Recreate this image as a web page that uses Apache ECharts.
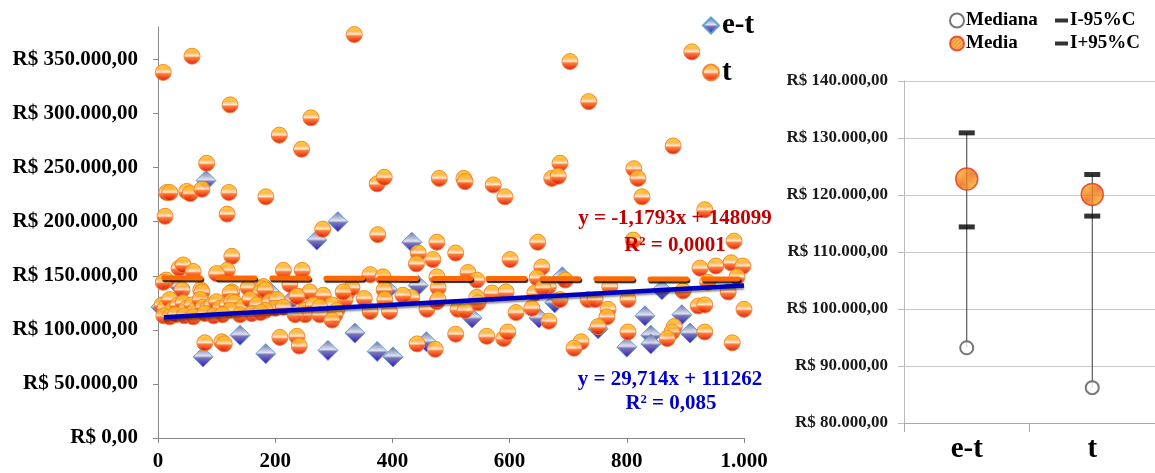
<!DOCTYPE html>
<html><head><meta charset="utf-8">
<script src="https://cdn.jsdelivr.net/npm/echarts@6/dist/echarts.min.js"></script>
<style>html,body{margin:0;padding:0;background:#fff}#c{width:1155px;height:473px}</style>
</head><body><div id="c"></div>
<script>
// ---- Data ----
// e-t series: [x, value]
const etPoints = [
 [5,121000],[37,140000],[82,238000],[77,75000],[140,95000],[184,78000],[191,135000],[225,126000],
 [271,183000],[290,81000],[307,200000],[336,97000],[374,80000],[401,75000],[392,137000],[433,181000],
 [444,141000],[458,89000],[536,111000],[650,111000],[690,149000],[677,125000],[751,101000],[800,84000],
 [831,113000],[841,95000],[841,87000],[860,137000],[894,114000],[908,97000]
];
// t series: [x, value]
const tPoints = [
 [9,338000],[58,353000],[123,308000],[335,373000],[261,296000],[207,280000],[245,267000],[83,254000],
 [15,227000],[20,227000],[49,228000],[55,226000],[75,230000],[121,227000],[184,223000],[374,235000],
 [386,241000],[480,240000],[12,205000],[118,207000],[281,193000],[375,188000],
 [703,348000],[735,311000],[911,357000],[879,270000],[686,254000],[672,240000],[683,242000],[812,249000],
 [819,240000],[826,223000],[522,240000],[524,237000],[572,234000],[592,223000],[933,211000],
 [476,181000],[508,171000],[444,171000],[469,165000],[441,161000],[601,165000],[648,181000],[811,183000],
 [983,182000],[126,168000],
 [36,157000],[43,160000],[60,154000],[118,155000],[100,152000],[214,155000],[246,155000],[14,146000],
 [9,144000],[362,151000],[384,149000],[529,153000],[925,157000],[952,159000],[978,162000],[998,159000],
 [655,158000],[544,146000],[476,149000],[647,148000],[695,146000],[988,149000],[938,144000],
 [41,137000],[73,137000],[126,135000],[154,139000],[180,140000],[225,142000],[239,131000],[259,135000],
 [282,132000],[322,134000],[331,139000],[386,137000],[433,130000],[352,129000],[319,128000],[478,139000],
 [570,134000],[594,135000],[544,130000],[643,134000],[771,140000],[666,140000],[896,136000],[973,135000],
 [657,139000],[75,135000],[177,138000],[123,134000],[174,134000],[183,137000],[316,135000],[418,132000],
 [686,128000],[734,128000],[746,128000],[802,128000],[922,122000],[933,123000],[1000,119000],[768,119000],
 [546,125000],[638,120000],[459,119000],[512,119000],[524,118000],[476,126000],[478,128000],[387,128000],
 [7,123000],[12,120000],[20,128000],[24,118000],[34,123000],[43,125000],[49,120000],[58,123000],
 [63,118000],[72,128000],[77,121000],[85,120000],[92,123000],[100,126000],[106,120000],[118,123000],
 [126,126000],[131,125000],[134,118000],[145,121000],[157,128000],[169,123000],[191,126000],[203,128000],
 [200,120000],[214,121000],[237,131000],[251,118000],[265,123000],[297,123000],[305,118000],[276,121000],
 [123,118000],[183,118000],
 [362,117000],[395,117000],[611,116000],[766,112000],[251,114000],[276,114000],[302,114000],[234,114000],
 [297,109000],[667,108000],
 [10,113000],[20,112000],[30,114000],[45,113000],[60,112000],[80,115000],[95,113000],[110,114000],
 [140,114000],[160,115000],[175,116000],
 [80,88000],[109,89000],[113,87000],[208,93000],[237,94000],[241,85000],[508,96000],[561,94000],
 [590,92000],[597,98000],[442,87000],[473,82000],[751,103000],[802,98000],[881,103000],[877,98000],
 [869,92000],[933,98000],[722,89000],[710,83000],[980,88000]
];
// Trend line equations shown on the chart: [slope, intercept], and x-range
const etTrend = [29.714, 111262];
const tTrend = [-1.1793, 148099];
const etTrendRange = [10, 1000];
const tTrendRange = [10, 990];
const xTicks = [0, 1000, 200];
const yTicksLeft = [0, 380000, 50000];

// Right panel
const categories = ['e-t', 't'];
const mediana = [93200, 86200];
const media = [122800, 120100];
const ciLow = [114400, 116300];
const ciHigh = [130900, 123600];

// ---- Helpers ----
const FONT = '"Liberation Serif", "Times New Roman", serif';
function thou(n){ return String(Math.round(n)).replace(/\B(?=(\d{3})+(?!\d))/g, '.'); }
function brl(v){ return 'R$ ' + thou(v) + ',00'; }
function trendData(c, r){ return [[r[0], c[0]*r[0]+c[1]], [r[1], c[0]*r[1]+c[1]]]; }

const circleGrad = new echarts.graphic.LinearGradient(0,0,0,1,[
  {offset:0, color:'#FFD000'},{offset:0.3, color:'#FFB040'},{offset:0.48, color:'#FFE8D0'},
  {offset:0.58, color:'#FF7020'},{offset:1, color:'#D80000'}]);
const diamondGrad = new echarts.graphic.LinearGradient(0,0,0,1,[
  {offset:0, color:'#5A6498'},{offset:0.45, color:'#DCE0F0'},{offset:0.55, color:'#7070B0'},
  {offset:1, color:'#2A00C8'}]);

// hatched orange fill for "Media"
const pc = document.createElement('canvas');
pc.width = 4; pc.height = 4;
const pctx = pc.getContext('2d');
pctx.fillStyle = '#FBA31F'; pctx.fillRect(0,0,4,4);
pctx.strokeStyle = 'rgba(226,70,10,0.75)'; pctx.lineWidth = 1;
pctx.beginPath(); pctx.moveTo(0,4); pctx.lineTo(4,0); pctx.stroke();
pctx.beginPath(); pctx.moveTo(-1,1); pctx.lineTo(1,-1); pctx.stroke();
pctx.beginPath(); pctx.moveTo(3,5); pctx.lineTo(5,3); pctx.stroke();
const hatch = {image: pc, repeat: 'repeat'};

const chart = echarts.init(document.getElementById('c'), null, {renderer:'canvas'});
const hiLow = categories.map((c,i)=>[i, Math.max(ciHigh[i],media[i],mediana[i],ciLow[i]), Math.min(ciHigh[i],media[i],mediana[i],ciLow[i])]);

chart.setOption({
  animation:false,
  backgroundColor:'#fff',
  textStyle:{fontFamily:FONT},
  grid:[
    {left:158, top:27, width:586, height:411},
    {left:904, top:81, width:253, height:342}
  ],
  legend:[
    {orient:'vertical', left:702, top:11, padding:0, itemGap:18, itemWidth:16, itemHeight:16,
     data:['e-t','t'], textStyle:{fontFamily:FONT, fontWeight:'bold', fontSize:29, color:'#000', padding:[0,0,0,-2]}},
    {orient:'vertical', left:949, top:11, padding:0, itemGap:4, itemWidth:14, itemHeight:14,
     data:['Mediana','Media'], textStyle:{fontFamily:FONT, fontWeight:'bold', fontSize:19, color:'#000', padding:[0,0,0,-3]}},
    {orient:'vertical', left:1055, top:11, padding:0, itemGap:4, itemWidth:13, itemHeight:4,
     data:['I-95%C','I+95%C'], textStyle:{fontFamily:FONT, fontWeight:'bold', fontSize:19, color:'#000', padding:[0,0,0,-3]}}
  ],
  xAxis:[
    {type:'value', gridIndex:0, min:xTicks[0], max:xTicks[1], interval:xTicks[2],
     axisLine:{show:true, lineStyle:{color:'#888'}}, axisTick:{show:true, length:5, lineStyle:{color:'#888'}},
     splitLine:{show:false},
     axisLabel:{margin:13, color:'#000', fontFamily:FONT, fontWeight:'bold', fontSize:21, formatter:v=>thou(v)}},
    {type:'category', gridIndex:1, data:categories, boundaryGap:true,
     axisLine:{show:true, lineStyle:{color:'#aaa'}}, axisTick:{show:true, length:9, lineStyle:{color:'#aaa'}},
     axisLabel:{margin:12, color:'#000', fontFamily:FONT, fontWeight:'bold', fontSize:29}}
  ],
  yAxis:[
    {type:'value', gridIndex:0, min:yTicksLeft[0], max:yTicksLeft[1], interval:yTicksLeft[2],
     axisLine:{show:true, lineStyle:{color:'#888'}}, axisTick:{show:true, length:5, lineStyle:{color:'#888'}},
     splitLine:{show:false},
     axisLabel:{margin:20, showMaxLabel:false, color:'#000', fontFamily:FONT, fontWeight:'bold', fontSize:21, formatter:brl}},
    {type:'value', gridIndex:1, min:80000, max:140000, interval:10000,
     axisLine:{show:true, lineStyle:{color:'#bbb'}}, axisTick:{show:true, length:6, lineStyle:{color:'#bbb'}},
     splitLine:{show:true, lineStyle:{color:'#c8c8c8'}},
     axisLabel:{margin:16, color:'#1a1a1a', fontFamily:FONT, fontWeight:'bold', fontSize:17, formatter:brl}}
  ],
  series:[
    {name:'e-t', type:'scatter', xAxisIndex:0, yAxisIndex:0, data:etPoints, symbol:'diamond', symbolSize:20,
     itemStyle:{color:diamondGrad, borderColor:'#5B9BD5', borderWidth:1, opacity:0.95}, z:2},
    {name:'t', type:'scatter', xAxisIndex:0, yAxisIndex:0, data:tPoints, symbol:'circle', symbolSize:16,
     itemStyle:{color:circleGrad, borderColor:'#F08030', borderWidth:1, opacity:0.9}, z:3},
    {name:'trend t', type:'line', xAxisIndex:0, yAxisIndex:0, data:trendData(tTrend, tTrendRange), symbol:'none',
     lineStyle:{color:'#FF6A00', width:5, type:[37,17], cap:'round', shadowColor:'rgba(0,0,0,0.85)', shadowOffsetX:1, shadowOffsetY:2, shadowBlur:1}, z:4, silent:true},
    {name:'trend e-t', type:'line', xAxisIndex:0, yAxisIndex:0, data:trendData(etTrend, etTrendRange), symbol:'none',
     lineStyle:{color:'#0000C0', width:4.5, shadowColor:'rgba(0,0,0,0.45)', shadowOffsetY:2, shadowBlur:2}, z:5, silent:true},

    {name:'range', type:'custom', xAxisIndex:1, yAxisIndex:1, data:hiLow, z:2,
     renderItem:function(params, api){
       const a = api.coord([api.value(0), api.value(1)]);
       const b = api.coord([api.value(0), api.value(2)]);
       return {type:'line', shape:{x1:a[0], y1:a[1], x2:b[0], y2:b[1]}, style:{stroke:'#3a3a3a', lineWidth:1}};
     }},
    {name:'Mediana', type:'scatter', xAxisIndex:1, yAxisIndex:1, data:mediana, symbol:'emptyCircle', symbolSize:13,
     itemStyle:{color:'#555', borderColor:'#555', borderWidth:1}, z:3},
    {name:'Media', type:'scatter', xAxisIndex:1, yAxisIndex:1, data:media, symbol:'circle', symbolSize:22,
     itemStyle:{color:hatch, borderColor:'#E2341A', borderWidth:1.5}, z:4},
    {name:'I-95%C', type:'scatter', xAxisIndex:1, yAxisIndex:1, data:ciLow, symbol:'rect', symbolSize:[16,5],
     itemStyle:{color:'#000'}, z:4},
    {name:'I+95%C', type:'scatter', xAxisIndex:1, yAxisIndex:1, data:ciHigh, symbol:'rect', symbolSize:[16,5],
     itemStyle:{color:'#000'}, z:4}
  ],
  graphic:[
    {type:'text', z:10, style:{text:'y = -1,1793x + 148099', x:675, y:219, align:'center', verticalAlign:'middle', font:'bold 21px ' + FONT, fill:'#C00000'}},
    {type:'text', z:10, style:{text:'R² = 0,0001', x:675, y:246, align:'center', verticalAlign:'middle', font:'bold 21px ' + FONT, fill:'#C00000'}},
    {type:'text', z:10, style:{text:'y = 29,714x + 111262', x:670, y:380, align:'center', verticalAlign:'middle', font:'bold 21px ' + FONT, fill:'#0000CC'}},
    {type:'text', z:10, style:{text:'R² = 0,085', x:671, y:404, align:'center', verticalAlign:'middle', font:'bold 21px ' + FONT, fill:'#0000CC'}}
  ]
});
</script></body></html>
